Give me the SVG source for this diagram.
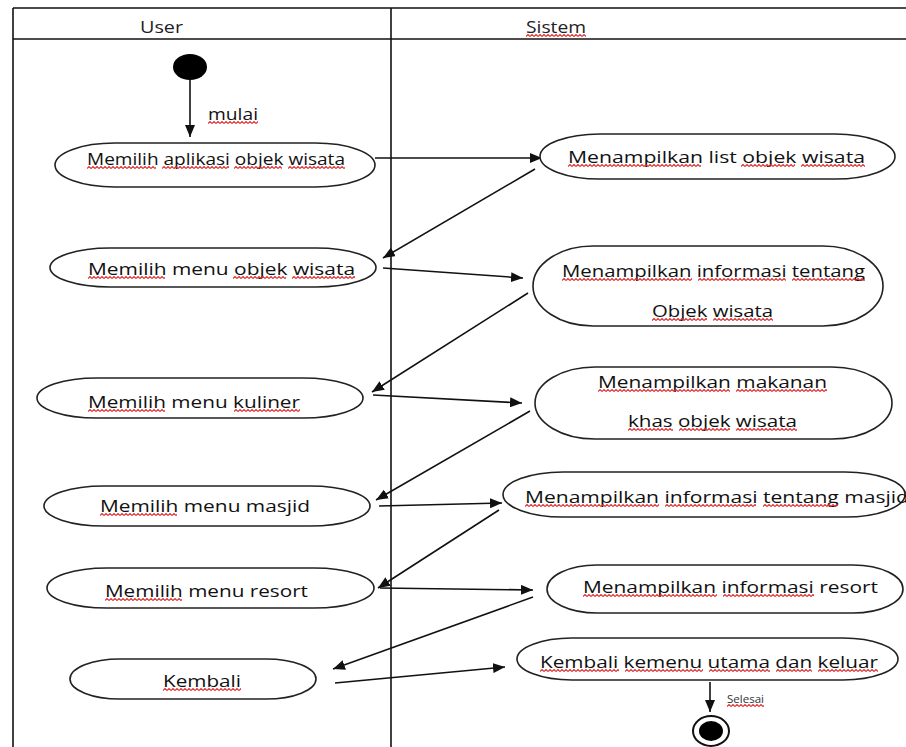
<svg xmlns="http://www.w3.org/2000/svg" width="906" height="747" viewBox="0 0 906 747">
  <style>
    .lane { stroke: #111; stroke-width: 1.6; fill: none; }
    .node { fill: #fff; stroke: #222; stroke-width: 1.6; }
    .lbl { font-family: "Open Sans", "Liberation Sans", sans-serif; font-size: 16px; fill: #111; }
    .hdr { font-family: "Open Sans", "Liberation Sans", sans-serif; font-size: 16px; fill: #222; }
    .small { font-family: "Open Sans", "Liberation Sans", sans-serif; font-size: 11px; fill: #333; }
    .sq { fill: url(#wave); }
    .flow { stroke: #111; stroke-width: 1.6; fill: none; marker-end: url(#arrow); }
  </style>
  <defs>
    <marker id="arrow" markerUnits="userSpaceOnUse" markerWidth="12" markerHeight="10" refX="12" refY="5" orient="auto">
      <path d="M0,0 L12,5 L0,10 z" fill="#111"/>
    </marker>
    <!-- spell-check style wavy underline -->
    <pattern id="wave" patternUnits="userSpaceOnUse" width="4" height="3">
      <path d="M0,2.5 L2,0.5 L4,2.5" fill="none" stroke="#e02a2a" stroke-width="1.1"/>
    </pattern>
  </defs>

  <rect width="906" height="747" fill="#fff"/>

  <!-- swimlane frame -->
  <g id="lanes">
    <line class="lane" x1="13" y1="8" x2="906" y2="8" stroke-width="2"/>
    <line class="lane" x1="13" y1="39" x2="906" y2="39" stroke-width="2"/>
    <line class="lane" x1="13" y1="8" x2="13" y2="747"/>
    <line class="lane" x1="391" y1="8" x2="391" y2="747"/>
    <text class="hdr" x="140" y="33" textLength="43" lengthAdjust="spacingAndGlyphs">User</text>
    <text class="hdr" x="526" y="33" textLength="60" lengthAdjust="spacingAndGlyphs"><tspan>Sistem</tspan></text>
    <rect class="sq" transform="translate(526,34)" width="60" height="3"/>
  </g>

  <!-- transitions -->
  <g id="connectors">
    <line class="flow" x1="190" y1="80" x2="190" y2="137"/>
    <line class="flow" x1="375" y1="158" x2="542" y2="158"/>
    <line class="flow" x1="535" y1="169" x2="383" y2="258"/>
    <line class="flow" x1="383" y1="268" x2="523" y2="278"/>
    <line class="flow" x1="528" y1="293" x2="372" y2="392"/>
    <line class="flow" x1="373" y1="395" x2="522" y2="403"/>
    <line class="flow" x1="530" y1="411" x2="376" y2="500"/>
    <line class="flow" x1="379" y1="506" x2="502" y2="503"/>
    <line class="flow" x1="499" y1="510" x2="378" y2="588"/>
    <line class="flow" x1="380" y1="588" x2="533" y2="590"/>
    <line class="flow" x1="533" y1="597" x2="333" y2="669"/>
    <line class="flow" x1="335" y1="683" x2="505" y2="667"/>
    <line class="flow" x1="710" y1="682" x2="710" y2="712"/>
    <text class="lbl" x="208" y="120" textLength="50" lengthAdjust="spacingAndGlyphs"><tspan>mulai</tspan></text>
    <rect class="sq" transform="translate(208,121)" width="50" height="3"/>
    <text class="small" x="727" y="703" textLength="37" lengthAdjust="spacingAndGlyphs"><tspan>Selesai</tspan></text>
    <rect class="sq" transform="translate(727,704)" width="37" height="3"/>
  </g>

  <g id="start">
    <ellipse cx="190" cy="67" rx="17" ry="13" fill="#000"/>
  </g>

  <g id="pilih-aplikasi">
    <rect class="node" x="55" y="143" width="320" height="44" rx="60" ry="22"/>
    <text class="lbl" x="87" y="165" textLength="258" lengthAdjust="spacingAndGlyphs"><tspan>Memilih</tspan> <tspan>aplikasi</tspan> <tspan>objek</tspan> <tspan>wisata</tspan></text>
    <rect class="sq" transform="translate(87,166)" width="69" height="3"/>
    <rect class="sq" transform="translate(162,166)" width="67" height="3"/>
    <rect class="sq" transform="translate(234,166)" width="48" height="3"/>
    <rect class="sq" transform="translate(288,166)" width="57" height="3"/>
  </g>

  <g id="list-objek">
    <rect class="node" x="540" y="134" width="355" height="45" rx="60" ry="22.5"/>
    <text class="lbl" x="568" y="163" textLength="297" lengthAdjust="spacingAndGlyphs"><tspan>Menampilkan</tspan> list <tspan>objek</tspan> <tspan>wisata</tspan></text>
    <rect class="sq" transform="translate(568,164)" width="133" height="3"/>
    <rect class="sq" transform="translate(741,164)" width="54" height="3"/>
    <rect class="sq" transform="translate(801,164)" width="64" height="3"/>
  </g>

  <g id="menu-objek">
    <rect class="node" x="50" y="248" width="326" height="39" rx="60" ry="19.5"/>
    <text class="lbl" x="88" y="275" textLength="267" lengthAdjust="spacingAndGlyphs"><tspan>Memilih</tspan> menu <tspan>objek</tspan> <tspan>wisata</tspan></text>
    <rect class="sq" transform="translate(88,276)" width="77" height="3"/>
    <rect class="sq" transform="translate(233,276)" width="53" height="3"/>
    <rect class="sq" transform="translate(292,276)" width="63" height="3"/>
  </g>

  <g id="info-objek">
    <rect class="node" x="533" y="246" width="350" height="80" rx="60" ry="40"/>
    <text class="lbl" x="562" y="277" textLength="303" lengthAdjust="spacingAndGlyphs"><tspan>Menampilkan</tspan> <tspan>informasi</tspan> <tspan>tentang</tspan></text>
    <text class="lbl" x="652" y="317" textLength="121" lengthAdjust="spacingAndGlyphs"><tspan>Objek</tspan> <tspan>wisata</tspan></text>
    <rect class="sq" transform="translate(562,278)" width="130" height="3"/>
    <rect class="sq" transform="translate(698,278)" width="88" height="3"/>
    <rect class="sq" transform="translate(792,278)" width="73" height="3"/>
    <rect class="sq" transform="translate(652,318)" width="55" height="3"/>
    <rect class="sq" transform="translate(713,318)" width="60" height="3"/>
  </g>

  <g id="menu-kuliner">
    <rect class="node" x="37" y="378" width="326" height="40" rx="60" ry="20"/>
    <text class="lbl" x="88" y="408" textLength="212" lengthAdjust="spacingAndGlyphs"><tspan>Memilih</tspan> menu <tspan>kuliner</tspan></text>
    <rect class="sq" transform="translate(88,409)" width="77" height="3"/>
    <rect class="sq" transform="translate(234,409)" width="66" height="3"/>
  </g>

  <g id="makanan-khas">
    <rect class="node" x="535" y="367" width="357" height="72" rx="60" ry="36"/>
    <text class="lbl" x="598" y="388" textLength="229" lengthAdjust="spacingAndGlyphs"><tspan>Menampilkan</tspan> <tspan>makanan</tspan></text>
    <text class="lbl" x="628" y="427" textLength="169" lengthAdjust="spacingAndGlyphs"><tspan>khas</tspan> <tspan>objek</tspan> <tspan>wisata</tspan></text>
    <rect class="sq" transform="translate(598,389)" width="132" height="3"/>
    <rect class="sq" transform="translate(736,389)" width="91" height="3"/>
    <rect class="sq" transform="translate(628,428)" width="45" height="3"/>
    <rect class="sq" transform="translate(679,428)" width="51" height="3"/>
    <rect class="sq" transform="translate(736,428)" width="61" height="3"/>
  </g>

  <g id="menu-masjid">
    <rect class="node" x="44" y="486" width="326" height="40" rx="60" ry="20"/>
    <text class="lbl" x="100" y="512" textLength="210" lengthAdjust="spacingAndGlyphs"><tspan>Memilih</tspan> menu masjid</text>
    <rect class="sq" transform="translate(100,513)" width="77" height="3"/>
  </g>

  <g id="info-masjid">
    <rect class="node" x="503" y="472" width="402" height="45" rx="60" ry="22.5"/>
    <text class="lbl" x="525" y="503" textLength="384" lengthAdjust="spacingAndGlyphs"><tspan>Menampilkan</tspan> <tspan>informasi</tspan> <tspan>tentang</tspan> masjid</text>
    <rect class="sq" transform="translate(525,504)" width="134" height="3"/>
    <rect class="sq" transform="translate(665,504)" width="91" height="3"/>
    <rect class="sq" transform="translate(763,504)" width="75" height="3"/>
  </g>

  <g id="menu-resort">
    <rect class="node" x="47" y="568" width="327" height="40" rx="60" ry="20"/>
    <text class="lbl" x="105" y="597" textLength="203" lengthAdjust="spacingAndGlyphs"><tspan>Memilih</tspan> menu resort</text>
    <rect class="sq" transform="translate(105,598)" width="77" height="3"/>
  </g>

  <g id="info-resort">
    <rect class="node" x="547" y="565" width="356" height="48" rx="50" ry="24"/>
    <text class="lbl" x="583" y="593" textLength="295" lengthAdjust="spacingAndGlyphs"><tspan>Menampilkan</tspan> <tspan>informasi</tspan> resort</text>
    <rect class="sq" transform="translate(583,594)" width="134" height="3"/>
    <rect class="sq" transform="translate(723,594)" width="91" height="3"/>
  </g>

  <g id="kembali">
    <rect class="node" x="70" y="659" width="246" height="40" rx="50" ry="20"/>
    <text class="lbl" x="163" y="687" textLength="78" lengthAdjust="spacingAndGlyphs"><tspan>Kembali</tspan></text>
    <rect class="sq" transform="translate(163,688)" width="78" height="3"/>
  </g>

  <g id="menu-utama">
    <rect class="node" x="517" y="638" width="381" height="42" rx="55" ry="21"/>
    <text class="lbl" x="540" y="668" textLength="338" lengthAdjust="spacingAndGlyphs"><tspan>Kembali</tspan> <tspan>kemenu</tspan> <tspan>utama</tspan> <tspan>dan</tspan> <tspan>keluar</tspan></text>
    <rect class="sq" transform="translate(540,669)" width="79" height="3"/>
    <rect class="sq" transform="translate(625,669)" width="78" height="3"/>
    <rect class="sq" transform="translate(709,669)" width="61" height="3"/>
    <rect class="sq" transform="translate(776,669)" width="36" height="3"/>
    <rect class="sq" transform="translate(818,669)" width="60" height="3"/>
  </g>

  <g id="end">
    <ellipse cx="711" cy="731" rx="18" ry="15" fill="#fff" stroke="#111" stroke-width="2"/>
    <ellipse cx="711" cy="731" rx="12" ry="10" fill="#000"/>
  </g>
</svg>
